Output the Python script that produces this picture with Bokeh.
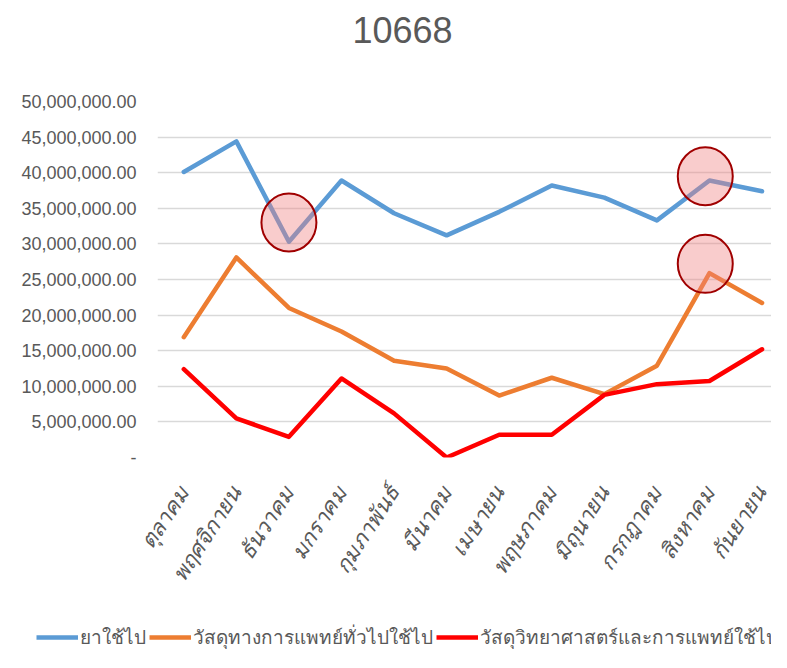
from bokeh.plotting import figure
from bokeh.models import Range1d, FixedTicker, NumeralTickFormatter, Legend, LegendItem, Title
from bokeh.layouts import column
from bokeh.embed import file_html
from bokeh.resources import INLINE
import math

months = ["ตุลาคม", "พฤศจิกายน", "ธันวาคม", "มกราคม", "กุมภาพันธ์", "มีนาคม",
          "เมษายน", "พฤษภาคม", "มิถุนายน", "กรกฎาคม", "สิงหาคม", "กันยายน"]
series_names = ["ยาใช้ไป", "วัสดุทางการแพทย์ทั่วไปใช้ไป", "วัสดุวิทยาศาสตร์และการแพทย์ใช้ไป"]
drugs = [40.1e6, 44.4e6, 30.3e6, 38.9e6, 34.3e6, 31.2e6, 34.5e6, 38.2e6, 36.5e6, 33.3e6, 38.9e6, 37.4e6]
general = [16.9e6, 28.1e6, 21.0e6, 17.7e6, 13.6e6, 12.5e6, 8.7e6, 11.2e6, 8.9e6, 12.9e6, 25.9e6, 21.7e6]
science = [12.4e6, 5.5e6, 2.9e6, 11.1e6, 6.2e6, 0.0, 3.2e6, 3.2e6, 8.8e6, 10.3e6, 10.75e6, 15.2e6]
y_ticks = [0, 5e6, 10e6, 15e6, 20e6, 25e6, 30e6, 35e6, 40e6, 45e6, 50e6]
mark_x = [2.0, 9.92, 9.92]
mark_y = [33.0e6, 39.5e6, 27.2e6]
title_text = "10668"

colors = ["#5B9BD5", "#ED7D31", "#FF0000"]
FONT = "'Liberation Sans', Arial, sans-serif"
GRAY = "#595959"
series = [drugs, general, science]

xs = list(range(len(months)))

p = figure(width=771, height=612, output_backend="svg", toolbar_location=None,
           x_range=Range1d(-0.5, 11.18), y_range=Range1d(0, 50e6),
           min_border_left=157, min_border_right=0, min_border_top=99,
           min_border_bottom=155)
p.outline_line_color = None
p.background_fill_color = "white"
p.title = None

# spacer between title and plot area, then the title itself (stacked outward)
p.add_layout(Title(text=" ", text_font_size="1px", standoff=42), "above")
p.add_layout(Title(text=title_text, align="left", offset=195, standoff=28,
                   text_font=FONT, text_font_size="36px", text_font_style="normal",
                   text_color=GRAY), "above")

for ys, c in zip(series, colors):
    p.line(xs, ys, line_color=c, line_width=4.5, line_join="round", line_cap="round")

p.ellipse(mark_x, mark_y, width=55, height=58, width_units="screen", height_units="screen",
          fill_color="#F08080", fill_alpha=0.4, line_color="#A00000", line_width=2)

p.xaxis.ticker = FixedTicker(ticks=xs)
p.xaxis.major_label_overrides = {i: m for i, m in enumerate(months)}
p.xaxis.major_label_orientation = math.radians(57)
p.xaxis.major_label_text_font = FONT
p.xaxis.major_label_text_font_size = "22px"
p.xaxis.major_label_text_color = GRAY
p.xaxis.major_label_text_font_style = "italic"
p.xaxis.axis_line_color = None
p.xaxis.major_tick_line_color = None
p.xaxis.minor_tick_line_color = None
p.xaxis.major_label_standoff = 25
p.xgrid.visible = False

p.yaxis.ticker = FixedTicker(ticks=y_ticks)
p.yaxis.formatter = NumeralTickFormatter(format="0,0.00")
p.yaxis.major_label_overrides = {0: "-"}
p.yaxis.major_label_text_font = FONT
p.yaxis.major_label_text_font_size = "18px"
p.yaxis.major_label_text_color = GRAY
p.yaxis.axis_line_color = None
p.yaxis.major_tick_line_color = None
p.yaxis.minor_tick_line_color = None
p.yaxis.major_label_standoff = 15
p.ygrid.grid_line_color = "#D9D9D9"
p.ygrid.grid_line_width = 1.5

# legend strip below the chart
lg = figure(width=771, height=40, output_backend="svg", toolbar_location=None,
            x_range=Range1d(0, 1), y_range=Range1d(0, 1),
            min_border_left=0, min_border_right=0, min_border_top=0, min_border_bottom=0)
lg.outline_line_color = None
lg.axis.visible = False
lg.grid.visible = False
lg.title = None

can_unalign = "frame_align" in lg.properties()
if can_unalign:
    # legend strip has its own full-width frame, so the legend can start near the left edge
    lg.frame_align = False
    leg_loc, leg_font, leg_glyph = (36, 0), "19px", 42
else:
    # frame stays aligned with the chart (starts at 157 px): shrink legend to fit inside it
    lg.min_border_left = 157
    leg_loc, leg_font, leg_glyph = (0, 0), "15px", 32

leg_renderers = [lg.line(xs, ys, line_color=c, line_width=4.5) for ys, c in zip(series, colors)]
legend = Legend(items=[LegendItem(label=n, renderers=[r]) for n, r in zip(series_names, leg_renderers)],
                orientation="horizontal", location=leg_loc,
                label_text_font=FONT, label_text_font_size=leg_font, label_text_color=GRAY,
                glyph_width=leg_glyph, label_standoff=2, spacing=3, border_line_color=None,
                background_fill_alpha=0, margin=0, padding=2)
lg.add_layout(legend, "center")

layout = column(p, lg, spacing=0)
open("out.html", "w").write(file_html(layout, INLINE))
